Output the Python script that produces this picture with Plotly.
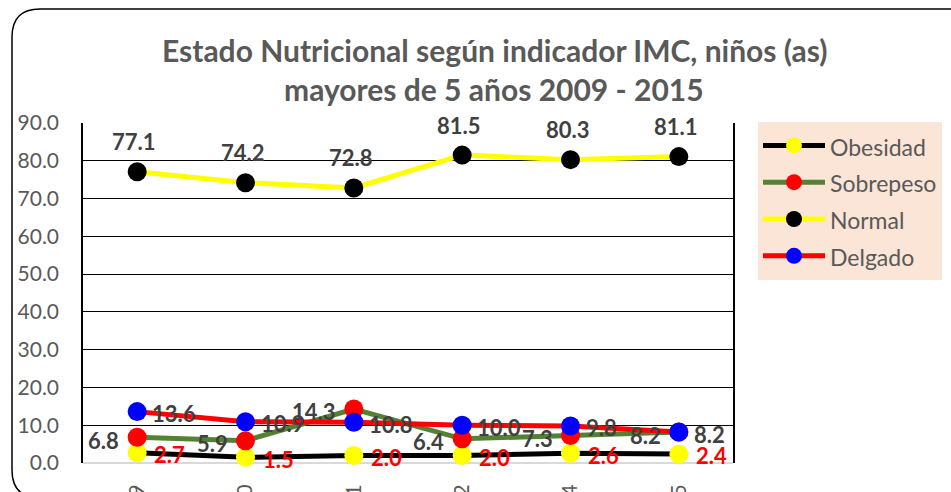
import plotly.graph_objects as go

years = ["2009", "2010", "2011", "2012", "2014", "2015"]
obesidad = [2.7, 1.5, 2.0, 2.0, 2.6, 2.4]
sobrepeso = [6.8, 5.9, 14.3, 6.4, 7.3, 8.2]
normal = [77.1, 74.2, 72.8, 81.5, 80.3, 81.1]
delgado = [13.6, 10.9, 10.8, 10.0, 9.8, 8.2]
y_ticks = [0, 10, 20, 30, 40, 50, 60, 70, 80, 90]

FONT = "Lato"
GRAY = "#595959"
DARK = "#404040"

# plot area in pixels
L, R, T, B = 83, 733, 123, 463
W, H = 951, 492

def px_x(x):
    return (x - L) / (R - L)

def px_y(y):
    return (B - y) / (B - T)

series = [
    ("Obesidad", obesidad, "black", "yellow"),
    ("Sobrepeso", sobrepeso, "#548235", "red"),
    ("Normal", normal, "yellow", "black"),
    ("Delgado", delgado, "red", "blue"),
]

fig = go.Figure()
for name, vals, lc, mc in series:
    fig.add_trace(go.Scatter(
        x=years, y=vals, name=f"<span style='font-size:23px'>{name}</span>",
        mode="lines+markers",
        line=dict(color=lc, width=5),
        marker=dict(color=mc, size=19),
        cliponaxis=False,
    ))

ann = []
lab_font = dict(family=FONT, size=22, color=DARK, weight="bold")
for i, v in enumerate(normal):
    ann.append(dict(x=i, y=v, text=f"{v:.1f}", showarrow=False, xanchor="center",
                    yanchor="middle", yshift=30, xshift=-3, font=lab_font))
for i, v in enumerate(sobrepeso):
    ann.append(dict(x=i, y=v, text=f"{v:.1f}", showarrow=False, xanchor="right",
                    yanchor="middle", xshift=-16, yshift=-3, font=lab_font))
for i, v in enumerate(delgado):
    ann.append(dict(x=i, y=v, text=f"{v:.1f}", showarrow=False, xanchor="left",
                    yanchor="middle", xshift=13, yshift=-2, font=lab_font))
for i, v in enumerate(obesidad):
    ann.append(dict(x=i, y=v, text=f"{v:.1f}", showarrow=False, xanchor="left",
                    yanchor="middle", xshift=15, yshift=-2,
                    font=dict(family=FONT, size=22, color="red", weight="bold")))

title_font = dict(family=FONT, size=30, color=GRAY, weight="bold")
ann.append(dict(xref="paper", yref="paper", x=px_x(494), y=px_y(50),
                text="Estado Nutricional según indicador IMC, niños (as)",
                showarrow=False, xanchor="center", yanchor="middle", font=title_font))
ann.append(dict(xref="paper", yref="paper", x=px_x(494), y=px_y(89),
                text="mayores de 5 años 2009 - 2015",
                showarrow=False, xanchor="center", yanchor="middle", font=title_font))

# outer rounded chart border
x0, y0, x1 = px_x(12), px_y(9), px_x(975)
rx, ry = 28 / (R - L), 28 / (B - T)
yb = px_y(498)
path = (f"M {x0},{yb + ry} L {x0},{y0 - ry} Q {x0},{y0} {x0 + rx},{y0} L {x1},{y0}")
path2 = f"M {x0},{yb + ry} Q {x0},{yb} {x0 + rx},{yb} L {x1},{yb}"
shapes = [
    dict(type="path", xref="paper", yref="paper", path=path,
         line=dict(color="black", width=1.5)),
    dict(type="path", xref="paper", yref="paper", path=path2,
         line=dict(color="black", width=1.5)),
]

fig.update_layout(
    width=W, height=H,
    margin=dict(l=L, r=W - R, t=T, b=H - B, autoexpand=False),
    paper_bgcolor="white", plot_bgcolor="white",
    showlegend=True,
    legend=dict(x=px_x(758), y=px_y(122), xanchor="left", yanchor="top",
                bgcolor="#FBE5D6", font=dict(family=FONT, size=26, color=GRAY),
                itemwidth=62, tracegroupgap=0, borderwidth=0),
    annotations=ann,
    shapes=shapes,
    xaxis=dict(type="category", range=[-0.5, len(years) - 0.5],
               showgrid=False, showline=False, zeroline=False,
               automargin=False, tickangle=-90,
               ticks="outside", ticklen=12, tickcolor="rgba(0,0,0,0)",
               tickfont=dict(family=FONT, size=21, color=GRAY)),
    yaxis=dict(range=[0, 90], tickvals=y_ticks, automargin=False,
               ticktext=[f"{v:.1f}" for v in y_ticks],
               showgrid=True, gridcolor="black", gridwidth=1,
               showline=True, mirror=True, linecolor="black", linewidth=1.5,
               zeroline=True, zerolinecolor="#d9d9d9", zerolinewidth=2,
               ticks="outside", ticklen=18, tickcolor="rgba(0,0,0,0)",
               tickfont=dict(family=FONT, size=21, color=GRAY)),
)

fig.write_html("out.html", config={"displayModeBar": False},
               post_script="document.body.style.margin='0';document.body.style.overflow='hidden';")
